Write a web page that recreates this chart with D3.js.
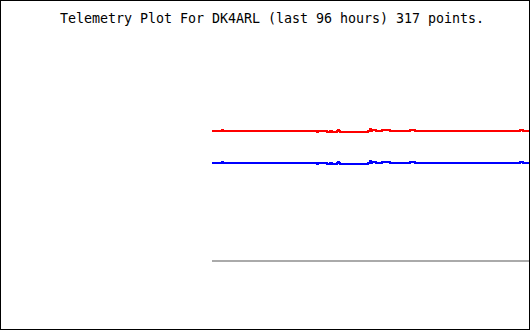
<!DOCTYPE html>
<html>
<head>
<meta charset="utf-8">
<script src="https://cdn.jsdelivr.net/npm/d3@7/dist/d3.min.js"></script>
<style>
  body { margin: 0; background: #fff; }
  svg { display: block; }
</style>
</head>
<body>
<div id="chart"></div>
<script>
const width = 530,
  height = 330;

const title = 'Telemetry Plot For DK4ARL (last 96 hours) 317 points.';
const pointCount = 317;

// sample index where a value changes (step data)
const stepIdx = [0, 10, 11, 105, 106, 115, 118, 120, 125, 126, 127, 128, 156, 158, 159, 160, 164, 170, 178, 198, 203, 308, 311, 317];
const redValues = [199, 200, 199, 198, 199, 198, 199, 198, 199, 200, 199, 198, 199, 201, 199, 200, 199, 200, 199, 200, 199, 200, 199, 199];
const blueValues = [167, 168, 167, 166, 167, 166, 167, 166, 167, 168, 167, 166, 167, 169, 167, 168, 167, 168, 167, 168, 167, 168, 167, 167];
const grayIdx = [0, 317];
const grayValues = [69, 69];

const svg = d3.select('#chart').append('svg')
  .attr('width', width)
  .attr('height', height);

let x = d3.scaleLinear()
  .domain([0, pointCount])
  .range([212, 529]);

let y = d3.scaleLinear()
  .domain([0, 300])
  .range([330, 30]);

let line = d3.line()
  .x(d => x(d[0]))
  .y(d => y(d[1]))
  .curve(d3.curveStepAfter);

function addSeries(idx, vals, colour) {
  let pts = idx.map((d, i) => [d, vals[i]]);
  svg.append('path')
    .datum(pts)
    .attr('d', line)
    .attr('fill', 'none')
    .attr('stroke', colour)
    .attr('stroke-width', 2)
    .attr('shape-rendering', 'crispEdges');
}

addSeries(grayIdx, grayValues, '#aaaaaa');
addSeries(stepIdx, blueValues, '#0000ff');
addSeries(stepIdx, redValues, '#ff0000');

svg.append('text')
  .attr('x', 60)
  .attr('y', 22.5)
  .attr('font-family', 'DejaVu Sans Mono, monospace')
  .attr('font-size', '13.33px')
  .attr('textLength', 424)
  .attr('fill', '#000')
  .text(title);

// frame
svg.append('rect')
  .attr('x', 0.5)
  .attr('y', 0.5)
  .attr('width', width - 1)
  .attr('height', height - 1)
  .attr('fill', 'none')
  .attr('stroke', '#000')
  .attr('shape-rendering', 'crispEdges');
</script>
</body>
</html>
